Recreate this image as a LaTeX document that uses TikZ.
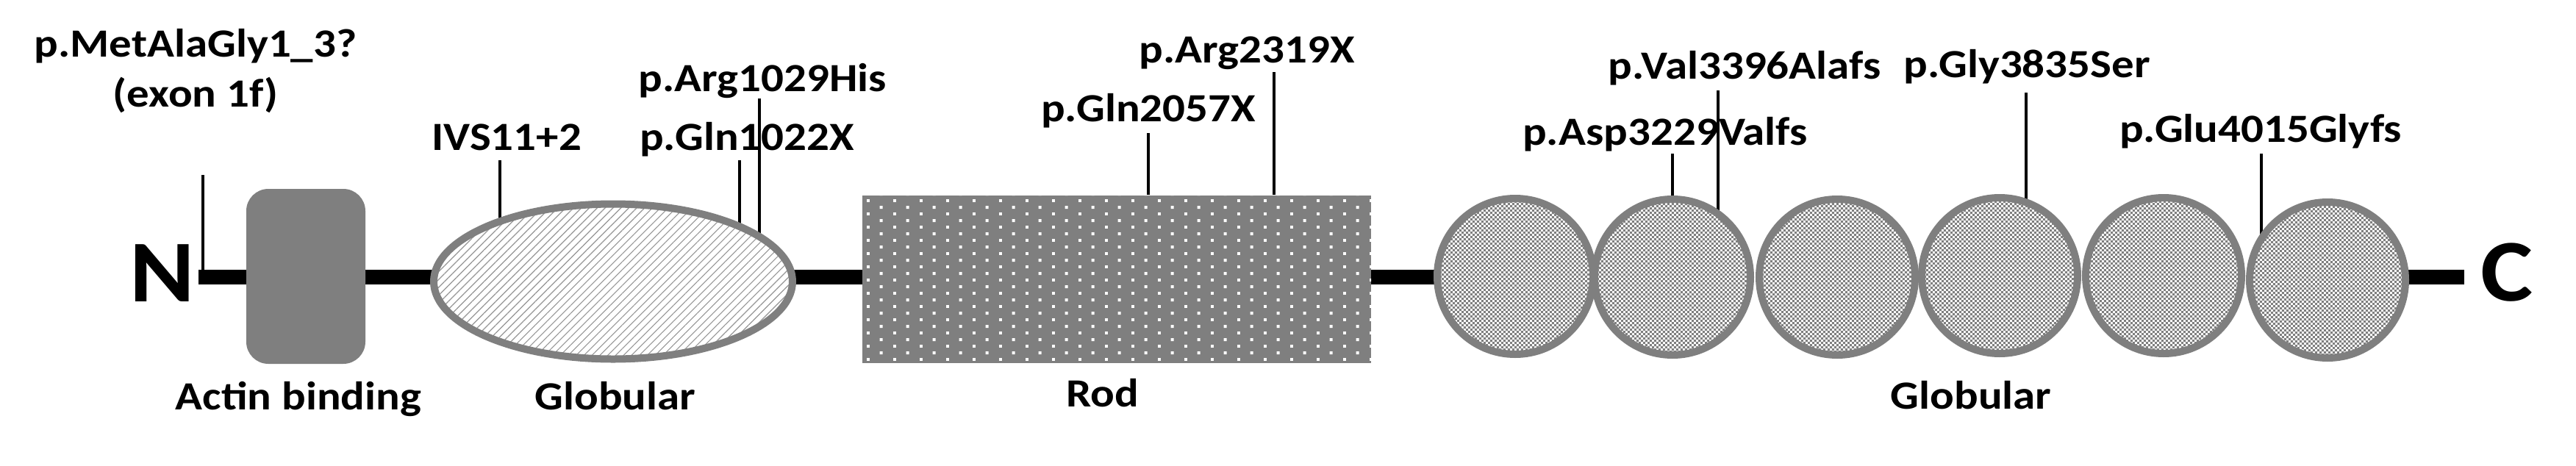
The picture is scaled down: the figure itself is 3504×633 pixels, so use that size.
\documentclass[tikz,border=0pt]{standalone}
\usepackage{fontspec}
\newfontfamily\lblfont{Carlito Bold}[FakeStretch=1.12]
\usetikzlibrary{shapes.geometric,patterns.meta,backgrounds}
\definecolor{dgray}{RGB}{127,127,127}
\definecolor{hgray}{RGB}{150,150,150}
\newcommand{\pxu}{0.25pt}
\tikzdeclarepattern{name=checker, type=uncolored,
  bounding box={(0pt,0pt) and (1.6pt,1.6pt)}, tile size={(1.6pt,1.6pt)},
  code={\fill (0pt,0pt) rectangle (0.8pt,0.8pt); \fill (0.8pt,0.8pt) rectangle (1.6pt,1.6pt);}}
\tikzdeclarepattern{name=roddots, type=uncolored,
  bounding box={(0pt,0pt) and (8.93pt,4.45pt)}, tile size={(8.93pt,4.45pt)},
  code={\fill (0pt,0pt) rectangle (1pt,1pt); \fill (4.46pt,2.22pt) rectangle (5.46pt,3.22pt);}}
\begin{document}
\begin{tikzpicture}[x=0.25pt,y=-0.25pt,
  lbl/.style={font=\lblfont\fontsize{13.6}{17}\selectfont, anchor=base, inner sep=0pt, align=center},
  term/.style={font=\lblfont\fontsize{30}{36}\selectfont, anchor=base, inner sep=0pt},
  backbone/.style={line width=5pt, black},
  mut/.style={line width=1.1pt, black},
  actin/.style={rectangle, rounded corners=7.5pt, fill=dgray, minimum width=162*\pxu, minimum height=238*\pxu, inner sep=0pt},
  globA/.style={ellipse, draw=dgray, line width=2.5pt, minimum width=488*\pxu, minimum height=211*\pxu, inner sep=0pt,
    preaction={fill=white}, pattern={Lines[angle=45,distance=1.9pt,line width=0.3pt]}, pattern color=hgray},
  rodbox/.style={rectangle, minimum width=692*\pxu, minimum height=228*\pxu, inner sep=0pt,
    preaction={fill=dgray}, pattern=roddots, pattern color=white},
  globc/.style={circle, draw=dgray, line width=2.5pt, minimum size=212*\pxu, inner sep=0pt,
    preaction={fill=white}, pattern=checker, pattern color=dgray}
]
\useasboundingbox (0,0) rectangle (3504,633);

% terminals
\node[term] (N) at (221,410) {N};
\node[term] (C) at (3410,409) {C};
\coordinate (nstart) at (270,377);
\coordinate (cend) at (3352,377);

% domains
\node[actin] (actin) at (416,376) {};
\node[globA] (glob1) at (834,383) {};
\node[rodbox] (rod) at (1519,380) {};
\node[globc] (c1) at (2061,376) {};
\node[globc] (c2) at (2275,377) {};
\node[globc] (c3) at (2499,377) {};
\node[globc] (c4) at (2720,375) {};
\node[globc] (c5) at (2943,375) {};
\node[globc] (c6) at (3166,381) {};

% domain labels
\node[lbl] (lActin) at (406,557) {Actin binding};
\node[lbl] (lGlob1) at (837,557) {Globular};
\node[lbl] (lRod) at (1500,553) {Rod};
\node[lbl] (lGlob2) at (2681,556) {Globular};

% mutation labels
\node[lbl] (m1) at (266,145) {p.MetAlaGly1\_3?\\(exon 1f)};
\node[lbl] (m2) at (689,204) {IVS11+2};
\node[lbl] (m3) at (1016,204) {p.Gln1022X};
\node[lbl] (m4) at (1037,124) {p.Arg1029His};
\node[lbl] (m5) at (1562,165) {p.Gln2057X};
\node[lbl] (m6) at (1696,85) {p.Arg2319X};
\node[lbl] (m7) at (2265,197) {p.Asp3229Valfs};
\node[lbl] (m8) at (2373,107) {p.Val3396Alafs};
\node[lbl] (m9) at (2757,105) {p.Gly3835Ser};
\node[lbl] (m10) at (3075,193) {p.Glu4015Glyfs};

% tick tops
\coordinate (t1) at (276,238);
\coordinate (t2) at (680,218);
\coordinate (t3) at (1006,218);
\coordinate (t4) at (1033,134);
\coordinate (t5) at (1562,181);
\coordinate (t6) at (1733,98);
\coordinate (t7) at (2275,209);
\coordinate (t8) at (2337,123);
\coordinate (t9) at (2756,126);
\coordinate (t10) at (3076,209);

\begin{scope}[on background layer]
  \draw[mut] (t1) -- (t1 |- nstart);
  \draw[mut] (t2) -- (t2 |- glob1.center);
  \draw[mut] (t3) -- (t3 |- glob1.center);
  \draw[mut] (t4) -- (t4 |- glob1.center);
  \draw[mut] (t5) -- (t5 |- rod.north);
  \draw[mut] (t6) -- (t6 |- rod.north);
  \draw[mut] (t7) -- (t7 |- c2.center);
  \draw[mut] (t8) -- (t8 |- c2.center);
  \draw[mut] (t9) -- (t9 |- c4.center);
  \draw[mut] (t10) -- (t10 |- c6.center);
  \draw[backbone] (nstart) -- (nstart -| c1.center);
  \draw[backbone] (cend -| c6.center) -- (cend);
\end{scope}
\end{tikzpicture}
\end{document}
